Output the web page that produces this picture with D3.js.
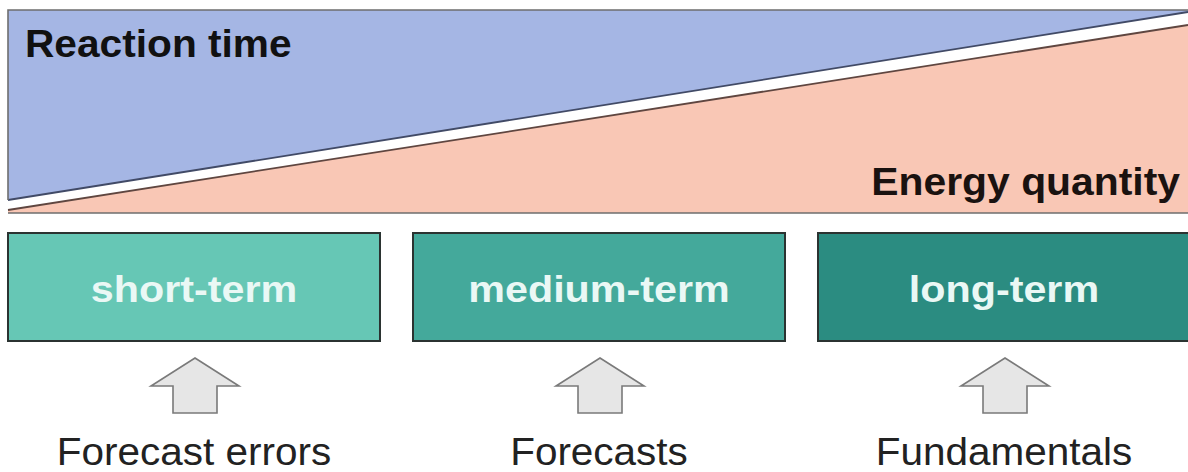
<!DOCTYPE html>
<html>
<head>
<meta charset="utf-8">
<script src="https://cdn.jsdelivr.net/npm/d3@7"></script>
<style>
  html, body { margin: 0; padding: 0; background: #ffffff; }
  svg { display: block; font-family: "Liberation Sans", Arial, sans-serif; }
</style>
</head>
<body>
<svg id="chart" width="1188" height="472"></svg>
<script>
// Horizons, their input types and box colours
const horizons = ["short-term", "medium-term", "long-term"];
const inputs = ["Forecast errors", "Forecasts", "Fundamentals"];
const horizonColors = ["#66c7b5", "#44a99b", "#2b8c81"];

// Relative size of the two opposing wedges along the horizon axis
const wedgePos = [0, 1];
const reactionTime = [1, 0];
const energyQuantity = [0, 1];
const wedgeLabels = ["Reaction time", "Energy quantity"];

const W = 1188, H = 472;
const svg = d3.select("#chart");

// Stretch text slightly wider than its natural width
function widen(sel, k) {
  sel.each(function () {
    const len = this.getComputedTextLength();
    d3.select(this).attr("textLength", len * k).attr("lengthAdjust", "spacingAndGlyphs");
  });
}

// ---- Top panel: two wedges ----
const panel = { left: 8, right: 1188, top: 10, bottom: 213 };
const x = d3.scaleLinear().domain([0, 1]).range([panel.left, panel.right]);
const yTop = d3.scaleLinear().domain([0, 1]).range([panel.top + 2, 200]);
const yBot = d3.scaleLinear().domain([0, 1]).range([panel.bottom - 3, 25]);

const topPts = wedgePos.map((p, i) => [x(p), yTop(reactionTime[i])]);
const botPts = wedgePos.map((p, i) => [x(p), yBot(energyQuantity[i])]);

const area = d3.line();
svg.append("path")
  .attr("d", area([[x(0), panel.top], [x(1), panel.top], ...topPts.slice().reverse()]) + "Z")
  .attr("fill", "#a5b6e4");
svg.append("path")
  .attr("d", area([[x(0), panel.bottom], [x(1), panel.bottom], ...botPts.slice().reverse()]) + "Z")
  .attr("fill", "#f9c7b5");

// wedge edges
svg.append("path").attr("d", area(topPts)).attr("stroke", "#414a66").attr("stroke-width", 1.8).attr("fill", "none");
svg.append("path").attr("d", area(botPts)).attr("stroke", "#5f4640").attr("stroke-width", 1.8).attr("fill", "none");

// panel frame
svg.append("path")
  .attr("d", area([[W, panel.top], [panel.left, panel.top], [panel.left, yTop(1)]]))
  .attr("stroke", "#6e6e6e").attr("stroke-width", 1.6).attr("fill", "none");
svg.append("path")
  .attr("d", area([[panel.left, panel.bottom], [W, panel.bottom]]))
  .attr("stroke", "#6e6e6e").attr("stroke-width", 1.6).attr("fill", "none");

svg.append("text")
  .attr("x", 25).attr("y", 57)
  .attr("font-size", 38).attr("font-weight", "bold").attr("fill", "#111")
  .text(wedgeLabels[0])
  .call(widen, 1.07);
svg.append("text")
  .attr("x", 1180).attr("y", 195)
  .attr("text-anchor", "end")
  .attr("font-size", 38).attr("font-weight", "bold").attr("fill", "#1a1210")
  .text(wedgeLabels[1])
  .call(widen, 1.075);

// ---- Horizon boxes ----
const band = d3.scaleBand()
  .domain(horizons)
  .range([8, 1190])
  .paddingInner(0.0815)
  .paddingOuter(0);

const boxTop = 233, boxBottom = 341;

const g = svg.selectAll("g.horizon")
  .data(horizons)
  .join("g")
  .attr("class", "horizon");

g.append("rect")
  .attr("x", d => band(d))
  .attr("y", boxTop)
  .attr("width", band.bandwidth())
  .attr("height", boxBottom - boxTop)
  .attr("fill", (d, i) => horizonColors[i])
  .attr("stroke", "#2b3331")
  .attr("stroke-width", 2);

g.append("text")
  .attr("x", d => band(d) + band.bandwidth() / 2)
  .attr("y", 302)
  .attr("text-anchor", "middle")
  .attr("font-size", 37)
  .attr("font-weight", "bold")
  .attr("fill", "#eaf8f5")
  .text(d => d)
  .call(widen, 1.115);

// upward arrows
const arrow = d3.line();
g.append("path")
  .attr("d", d => {
    const cx = band(d) + band.bandwidth() / 2 + 1;
    return arrow([
      [cx, 358], [cx + 44, 386], [cx + 22, 386], [cx + 22, 413],
      [cx - 22, 413], [cx - 22, 386], [cx - 44, 386]
    ]) + "Z";
  })
  .attr("fill", "#e6e6e6")
  .attr("stroke", "#7a7a7a")
  .attr("stroke-width", 1.6);

// input labels
g.append("text")
  .attr("x", d => band(d) + band.bandwidth() / 2)
  .attr("y", 465)
  .attr("text-anchor", "middle")
  .attr("font-size", 38)
  .attr("fill", "#222")
  .text((d, i) => inputs[i])
  .call(widen, 1.065);
</script>
</body>
</html>
